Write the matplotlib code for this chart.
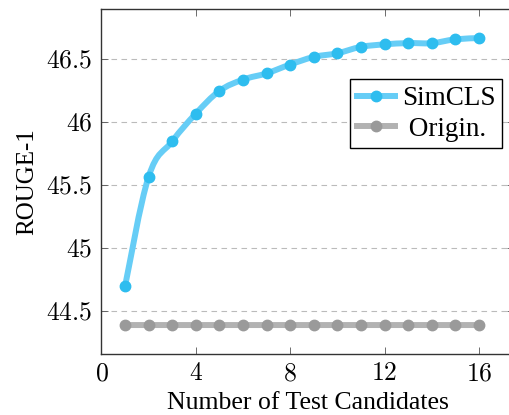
import matplotlib

matplotlib.use("Agg")
import matplotlib.pyplot as plt
import numpy as np
from matplotlib.path import Path
from matplotlib.patches import PathPatch

plt.rcParams["mathtext.fontset"] = "cm"
plt.rcParams["font.family"] = ["Liberation Serif", "DejaVu Serif"]

candidates = list(range(1, 17))
simcls = [44.70, 45.57, 45.85, 46.07, 46.25, 46.34, 46.39, 46.46,
          46.52, 46.55, 46.60, 46.62, 46.63, 46.63, 46.66, 46.67]
origin = [44.39] * 16
xticks = [0, 4, 8, 12, 16]
yticks = [44.5, 45, 45.5, 46, 46.5]
ytick_labels = ["44.5", "45", "45.5", "46", "46.5"]

CYAN_LINE = "#66CDF6"
CYAN_MARK = "#2EBDEF"
GRAY_LINE = "#B2B2B2"
GRAY_MARK = "#9A9A9A"
LW = 4.3
MS = 7.5


def smooth_path(xs, ys, tension=0.55):
    # TikZ-like "smooth" curve: cubic Bezier segments through the points
    p = np.column_stack([xs, ys]).astype(float)
    n = len(p)
    verts = [p[0]]
    codes = [Path.MOVETO]
    k = tension / 3.0
    for i in range(n - 1):
        prev = p[i - 1] if i > 0 else p[i]
        nxt = p[i + 2] if i + 2 < n else p[i + 1]
        c1 = p[i] + (p[i + 1] - prev) * k
        c2 = p[i + 1] - (nxt - p[i]) * k
        verts += [c1, c2, p[i + 1]]
        codes += [Path.CURVE4] * 3
    return Path(verts, codes)


fig = plt.figure(figsize=(5.09, 4.15), dpi=100)
ax = fig.add_axes([0.1994, 0.147, 0.811, 0.831])

ax.add_patch(PathPatch(smooth_path(candidates, simcls), fill=False,
                       edgecolor=CYAN_LINE, lw=LW, capstyle="round", zorder=3))
ax.add_patch(PathPatch(smooth_path(candidates, origin), fill=False,
                       edgecolor=GRAY_LINE, lw=LW, capstyle="round", zorder=3))
ax.plot(candidates, simcls, ls="none", marker="o", ms=MS, color=CYAN_MARK,
        mec=CYAN_MARK, zorder=4)
ax.plot(candidates, origin, ls="none", marker="o", ms=MS, color=GRAY_MARK,
        mec=GRAY_MARK, zorder=4)

# legend proxies (pgfplots centres the entries, so pad the shorter one)
h1, = ax.plot([], [], color=CYAN_LINE, lw=LW, marker="o", ms=MS,
              mfc=CYAN_MARK, mec=CYAN_MARK, label="SimCLS")
h2, = ax.plot([], [], color=GRAY_LINE, lw=LW, marker="o", ms=MS,
              mfc=GRAY_MARK, mec=GRAY_MARK, label=" Origin.")
leg = ax.legend(handles=[h1, h2], loc="upper right", bbox_to_anchor=(0.9705, 0.796),
                fontsize=19.5, frameon=True, fancybox=False, edgecolor="black",
                framealpha=1, handlelength=1.4, handletextpad=0.25,
                borderpad=0.25, labelspacing=0.2, borderaxespad=0)
leg.get_frame().set_linewidth(1.0)

ax.set_xlim(0, 17.5)
ax.set_ylim(44.16, 46.9)
ax.set_xticks(xticks)
ax.set_xticklabels([f"${t}$" for t in xticks])
ax.set_yticks(yticks)
ax.set_yticklabels([f"${t}$" for t in ytick_labels])
ax.tick_params(direction="in", length=5, width=0.6, color="#555555",
               labelsize=18.5, top=True, right=True, pad=6.5)
ax.grid(axis="y", ls=(0, (5, 4)), color="#BBBBBB", lw=0.8)
for s in ax.spines.values():
    s.set_linewidth(1.0)
    s.set_color("#333333")

ax.set_xlabel("Number of Test Candidates", fontsize=18.5, labelpad=5)
ax.set_ylabel("ROUGE-1", fontsize=18, labelpad=6)

fig.savefig("out.png", dpi=100)
